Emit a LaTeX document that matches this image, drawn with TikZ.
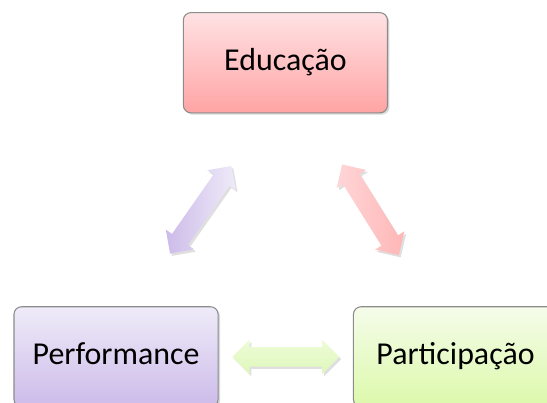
\documentclass[tikz,border=0pt]{standalone}
\usepackage{fontspec}
\setmainfont{Carlito}
\definecolor{edutop}{RGB}{255,226,228}
\definecolor{edubot}{RGB}{255,164,164}
\definecolor{perftop}{RGB}{239,235,249}
\definecolor{perfbot}{RGB}{204,187,233}
\definecolor{parttop}{RGB}{245,252,234}
\definecolor{partbot}{RGB}{220,249,170}
\definecolor{arrgreentop}{RGB}{238,251,216}
\definecolor{arrgreenbot}{RGB}{222,248,186}
\usetikzlibrary{positioning}
\usetikzlibrary{shapes.arrows, shadows, calc}
\tikzset{
  box/.style={draw=gray!90, line width=0.8pt, rounded corners=0.2cm,
    minimum width=5.4cm, minimum height=2.65cm,
    font=\fontsize{24}{28}\selectfont, text height=0.55cm, text depth=0.15cm,
    drop shadow={opacity=0.3, shadow xshift=0.05cm, shadow yshift=-0.05cm}},
  dblarrow/.style={double arrow, double arrow head extend=0.2cm,
    minimum height=2.83cm, minimum width=0.9cm, inner xsep=0pt, inner ysep=0.25cm,
    drop shadow={opacity=0.25, shadow xshift=0.05cm, shadow yshift=-0.06cm}}
}

\begin{document}
\begin{tikzpicture}
  \useasboundingbox (0,0) rectangle (14.47,10.66);

  \node [box, top color=edutop, bottom color=edubot] (edu) at (7.55,9.0) {Educação};
  \node [box, top color=perftop, bottom color=perfbot] (perf) at (3.07,1.22) {Performance};
  \node [box, top color=parttop, bottom color=partbot] (part) at (12.05,1.22) {Participação};

  \node [dblarrow, rotate=55, left color=perfbot, right color=perftop] (perfedu) at ($(perf)!0.5!(edu)$) {};
  \node [dblarrow, rotate=-58, left color=edutop!80!edubot, right color=edubot!80!white] (edupart) at ($(edu)!0.5!(part)$) {};
  \node [dblarrow, top color=arrgreentop, bottom color=arrgreenbot] (perfpart) at ($(perf)!0.5!(part)$) {};

\end{tikzpicture}
\end{document}
